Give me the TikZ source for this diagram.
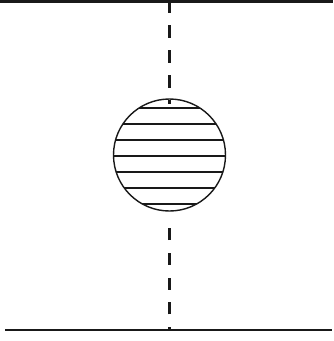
\documentclass[tikz,border=0pt]{standalone}
\begin{document}
\begin{tikzpicture}[x=1pt,y=-1pt,
  rule/.style={line width=2.4pt,black!90},
  dashline/.style={line width=3.4pt,black!90},
  stripe/.style={line width=2.5pt,black!90},
  ball/.style={circle,draw=black!90,line width=1.4pt,fill=white,minimum size=112pt,inner sep=0pt,
    path picture={\foreach \k in {-3,...,3}
      \draw[stripe] ([xshift=-60pt,yshift=-1pt-16pt*\k]path picture bounding box.center) -- ++(120pt,0);}}]
\useasboundingbox (0,0) rectangle (333,341);
% axis coordinates
\coordinate (tl) at (0,1.3);
\coordinate (tr) at (333,1.3);
\coordinate (bl) at (5,329.5);
\coordinate (br) at (332,329.5);
\coordinate (top) at (169.5,0);
\coordinate (tick) at (169.5,103.5);
\coordinate (bot) at (169.5,330);
\coordinate (dend) at (169.5,227);
% horizontal lines
\draw[rule] (tl) -- (tr);
\draw[rule,line width=2pt] (bl) -- (br);
% striped circle
\node[ball] (c) at (169.5,155) {};
% dashed axis
\draw[dashline,dash pattern=on 13pt off 12pt] (top) -- (tick);
\draw[dashline,dash pattern=on 12pt off 12.7pt,dash phase=9pt] (bot) -- (dend);
\end{tikzpicture}
\end{document}
